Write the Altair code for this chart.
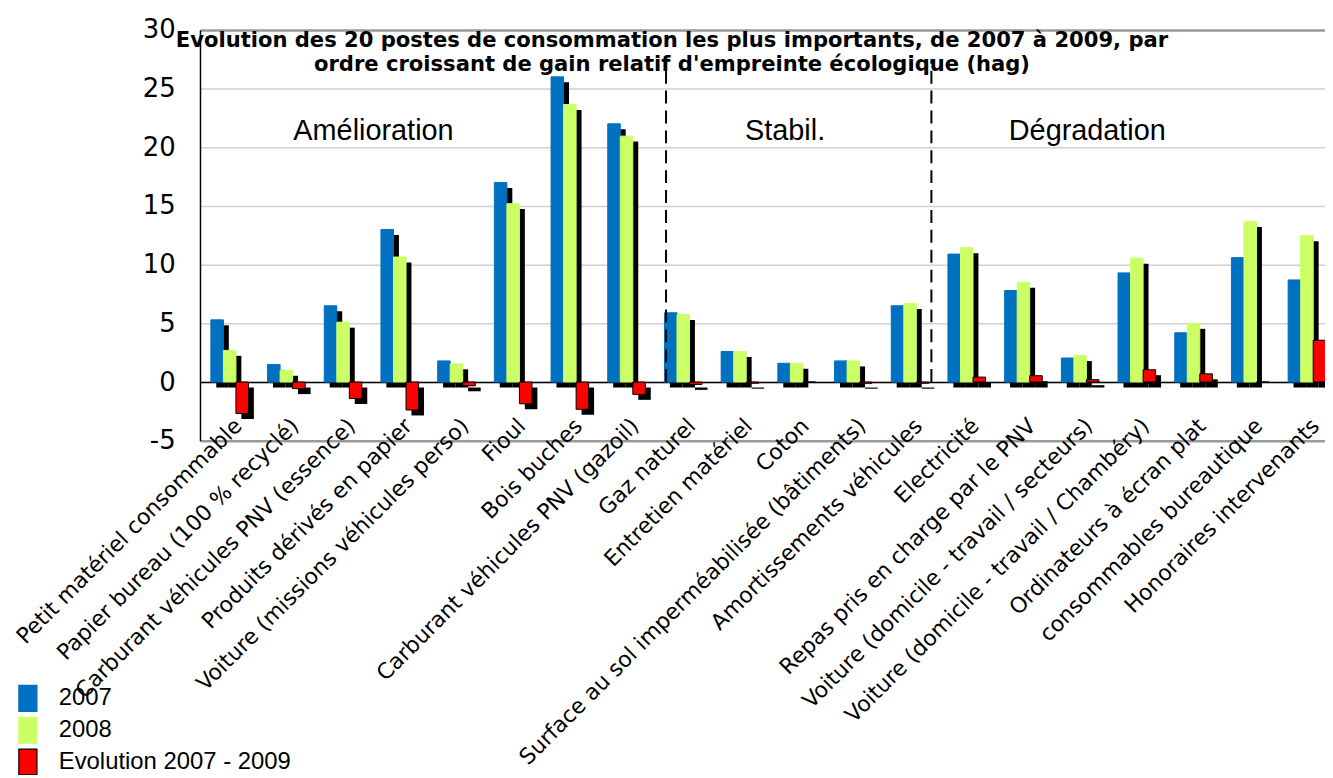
import altair as alt
import pandas as pd

categories = [
    "Petit matériel consommable",
    "Papier bureau (100 % recyclé)",
    "Carburant véhicules PNV (essence)",
    "Produits dérivés en papier",
    "Voiture (missions véhicules perso)",
    "Fioul",
    "Bois buches",
    "Carburant véhicules PNV (gazoil)",
    "Gaz naturel",
    "Entretien matériel",
    "Coton",
    "Surface au sol imperméabilisée (bâtiments)",
    "Amortissements véhicules",
    "Electricité",
    "Repas pris en charge par le PNV",
    "Voiture (domicile - travail / secteurs)",
    "Voiture (domicile - travail / Chambéry)",
    "Ordinateurs à écran plat",
    "consommables bureautique",
    "Honoraires intervenants",
]
v2007 = [5.3, 1.5, 6.5, 13.0, 1.8, 17.0, 26.0, 22.0, 5.9, 2.6,
         1.6, 1.8, 6.5, 10.9, 7.8, 2.05, 9.3, 4.2, 10.6, 8.7]
v2008 = [2.7, 1.0, 5.1, 10.65, 1.55, 15.2, 23.65, 20.95, 5.75, 2.6,
         1.6, 1.8, 6.7, 11.45, 8.5, 2.25, 10.55, 5.0, 13.67, 12.46]
evol = [-2.68, -0.56, -1.4, -2.38, -0.32, -1.85, -2.32, -1.05, -0.2, -0.1,
        0.0, -0.1, -0.1, 0.42, 0.54, 0.2, 1.05, 0.7, 0.0, 3.56]

series = ["2007", "2008", "Evolution 2007 - 2009"]
fills = ["#0070C0", "#CCFF66", "#FF0000"]
strokes = ["#0070C0", "#CCFF66", "#000000"]

groups = ["Amélioration", "Stabil.", "Dégradation"]
group_anchor = ["Produits dérivés en papier", "Coton",
                "Voiture (domicile - travail / secteurs)"]
group_bandpos = [0.06, 0.32, 0.65]
group_y = 20.6

separators = ["Gaz naturel", "Amortissements véhicules"]
separator_bandpos = [0.22, 0.9]
separator_top = 27.5

rows = []
for c, a, b, e in zip(categories, v2007, v2008, evol):
    for s, v in zip(series, (a, b, e)):
        rows.append({"poste": c, "serie": s, "hag": v})
df = pd.DataFrame(rows)

x_axis = alt.Axis(
    title=None, orient="bottom", offset=-59, domainColor="black", domainWidth=1.5,
    ticks=False, grid=False, labelAngle=-45, labelAlign="right", labelBaseline="top",
    labelPadding=33, labelOffset=3, labelFont="DejaVu Sans", labelFontSize=22,
    labelColor="black", labelLimit=0, labelOverlap=False, labelBound=False,
)
x_scale = alt.Scale(domain=categories, range=[0, 1140], paddingInner=0, paddingOuter=0)

y_axis = alt.Axis(
    title=None, values=[-5, 0, 5, 10, 15, 20, 25, 30], ticks=False,
    labelExpr="'' + datum.value",
    domainColor="black", domainWidth=1.5, labelFont="DejaVu Sans", labelFontSize=26,
    labelColor="black", labelPadding=25, grid=True,
    gridColor={"condition": {"test": "datum.value == 30 || datum.value == -5", "value": "#9a9a9a"},
               "value": "#d0d0d0"},
    gridWidth={"condition": {"test": "datum.value == 30 || datum.value == -5", "value": 2.5},
               "value": 1.5},
)
y_scale = alt.Scale(domain=[-5, 30], nice=False, zero=False)


def xenc(bp=None):
    if bp is None:
        return alt.X("poste:N", sort=categories, scale=x_scale, axis=x_axis)
    return alt.X("poste:N", sort=categories, scale=x_scale, axis=x_axis, bandPosition=bp)


yenc = alt.Y("hag:Q", scale=y_scale, axis=y_axis)

legend = alt.Legend(
    title=None, orient="none", legendX=-187, legendY=658, symbolType="M-0.7,-1V1H0.7V-1Z",
    symbolSize=676, symbolStrokeWidth=1.2, labelFont="Liberation Sans", labelFontSize=24,
    labelColor="black", labelOffset=17, rowPadding=0, padding=0, symbolOpacity=1,
    labelLimit=0,
)

shadow = alt.Chart(df).mark_bar(color="black", yOffset=5.5, y2Offset=5.5).encode(
    x=xenc(),
    xOffset=alt.XOffset("serie:N", sort=series,
                        scale=alt.Scale(domain=series, paddingInner=0, paddingOuter=0.762, align=0.854)),
    y=yenc,
)

bars = alt.Chart(df).mark_bar(strokeWidth=1, opacity=1).encode(
    x=xenc(),
    xOffset=alt.XOffset("serie:N", sort=series,
                        scale=alt.Scale(domain=series, paddingInner=0, paddingOuter=0.762, align=0.57)),
    y=yenc,
    color=alt.Color("serie:N", sort=series, scale=alt.Scale(domain=series, range=fills), legend=legend),
    stroke=alt.Stroke("serie:N", sort=series, scale=alt.Scale(domain=series, range=strokes), legend=legend),
)

layers = [shadow, bars]

for name, bp in zip(separators, separator_bandpos):
    sep_df = pd.DataFrame({"poste": [name], "hag": [0.0], "hag2": [separator_top]})
    layers.append(
        alt.Chart(sep_df).mark_rule(color="black", strokeWidth=2, strokeDash=[13, 7]).encode(
            x=xenc(bp), y=yenc, y2="hag2:Q"
        )
    )

for label, anchor, bp in zip(groups, group_anchor, group_bandpos):
    g_df = pd.DataFrame({"poste": [anchor], "hag": [group_y], "label": [label]})
    layers.append(
        alt.Chart(g_df).mark_text(font="Liberation Sans", fontSize=29, baseline="alphabetic",
                                  align="center", color="black").encode(
            x=xenc(bp), y=yenc, text="label:N"
        )
    )

chart = alt.layer(*layers).resolve_scale(xOffset="independent").properties(
    width=1131,
    height=413,
    autosize=alt.AutoSizeParams(type="none"),
    padding={"left": 193, "top": 20, "right": 0, "bottom": 334},
    background="white",
    title=alt.TitleParams(
        text=["Evolution des 20 postes de consommation les plus importants, de 2007 à 2009, par",
              "ordre croissant de gain relatif d'empreinte écologique (hag)"],
        font="DejaVu Sans", fontSize=21.2, fontWeight="bold", color="black",
        anchor="middle", frame="group", offset=-17, baseline="alphabetic", dx=-91, dy=59,
        lineHeight=25,
    ),
).configure_view(stroke=None)

chart.save("out.html", embed_options={"renderer": "svg", "actions": False})
